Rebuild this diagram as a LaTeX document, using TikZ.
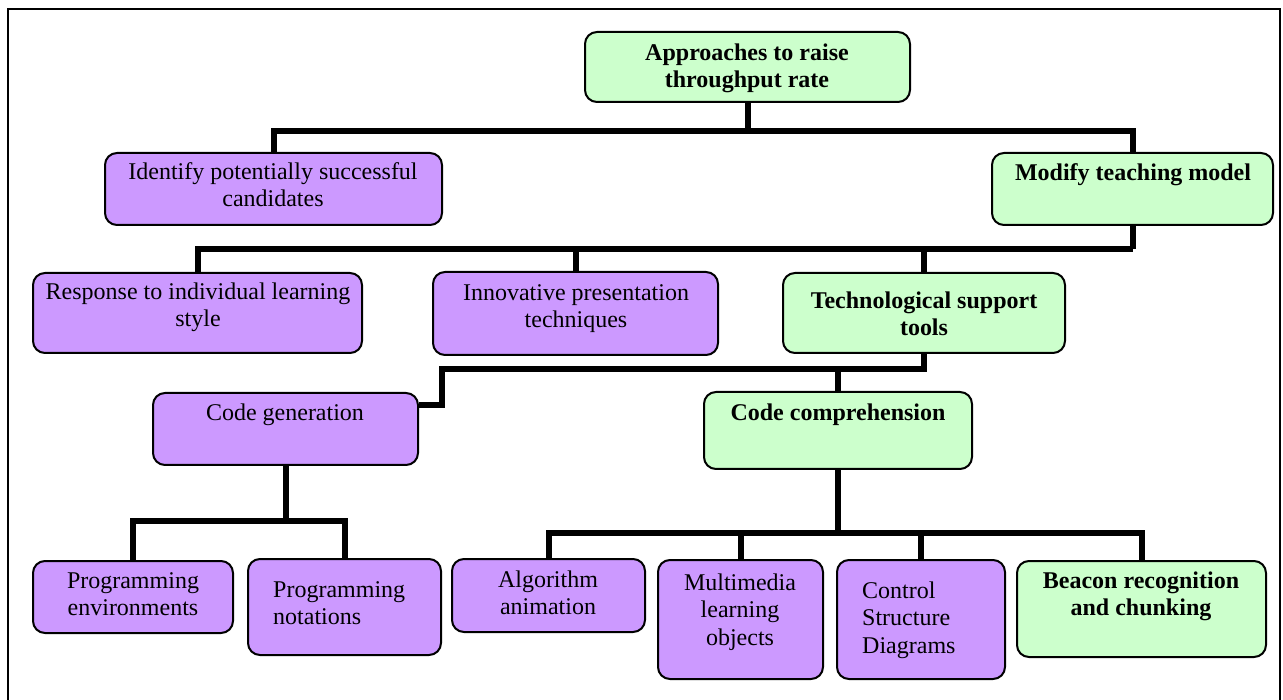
\documentclass[tikz,border=0pt]{standalone}
\usepackage{fontspec}
\setmainfont{Liberation Serif}
\usetikzlibrary{fit}
\definecolor{lavender}{HTML}{CC99FF}
\definecolor{mint}{HTML}{CCFFCC}
\tikzset{
  box/.style={draw=black, line width=2pt, rounded corners=12pt, inner sep=0pt},
  pbox/.style={box, fill=lavender},
  gbox/.style={box, fill=mint},
  txt/.style={inner sep=0pt, anchor=north, align=center, yshift=19.25pt,
              font=\fontsize{24}{27.5}\selectfont},
  btxt/.style={txt, font=\fontsize{24}{27.5}\selectfont\bfseries},
  conn/.style={draw=black, line width=6pt},
}
\begin{document}
\begin{tikzpicture}[x=1pt,y=-1pt]
\useasboundingbox (0,0) rectangle (1283,700);
% outer frame
\draw[line width=2pt] (8,700) -- (8,9) -- (1280,9) -- (1280,700);

% boxes
\node[gbox, fit={(585,32)(910,102)}]   (top)      {};
\node[pbox, fit={(105,153)(442,225)}]  (ident)    {};
\node[gbox, fit={(992,153)(1273,225)}] (modify)   {};
\node[pbox, fit={(33,273)(362,353)}]   (resp)     {};
\node[pbox, fit={(433,272)(718,355)}]  (innov)    {};
\node[gbox, fit={(783,273)(1065,353)}] (tech)     {};
\node[pbox, fit={(153,393)(418,465)}]  (codegen)  {};
\node[gbox, fit={(704,392)(972,469)}]  (codecomp) {};
\node[pbox, fit={(33,561)(233,633)}]   (progenv)  {};
\node[pbox, fit={(248,559)(441,655)}]  (prognot)  {};
\node[pbox, fit={(452,559)(645,632)}]  (algo)     {};
\node[pbox, fit={(658,560)(823,679)}]  (multi)    {};
\node[pbox, fit={(837,560)(1005,679)}] (ctrl)     {};
\node[gbox, fit={(1017,561)(1266,657)}] (beacon)  {};

% labels (placed by first baseline)
\node[btxt] (top-t)      at (747,60)  {\strut Approaches to raise\\throughput rate};
\node[txt]  (ident-t)    at (273,179) {\strut Identify potentially successful\\candidates};
\node[btxt] (modify-t)   at (1133,180) {\strut Modify teaching model};
\node[txt]  (resp-t)     at (198,299) {\strut Response to individual learning\\style};
\node[txt]  (innov-t)    at (576,300) {\strut Innovative presentation\\techniques};
\node[btxt] (tech-t)     at (924,308) {\strut Technological support\\tools};
\node[txt]  (codegen-t)  at (285,420) {\strut Code generation};
\node[btxt] (codecomp-t) at (838,420) {\strut Code comprehension};
\node[txt]  (progenv-t)  at (133,588) {\strut Programming\\environments};
\node[txt, anchor=north west, align=left] (prognot-t) at (273,597) {\strut Programming\\notations};
\node[txt]  (algo-t)     at (548,587) {\strut Algorithm\\animation};
\node[txt]  (multi-t)    at (740,590) {\strut Multimedia\\learning\\objects};
\node[txt, anchor=north west, align=left] (ctrl-t) at (862,598) {\strut Control\\Structure\\Diagrams};
\node[btxt] (beacon-t)   at (1141,588) {\strut Beacon recognition\\and chunking};

% connectors
\draw[conn] (top.south) -- ++(0,28) coordinate (b1);
\draw[conn] (ident.north) |- (b1) -| (modify.north);

\draw[conn] (modify.south) -- ++(0,23) coordinate (b2);
\draw[conn] (b2) -| (resp.north);
\draw[conn] (innov.north) -- (innov.north |- b2);
\draw[conn] (tech.north) -- (tech.north |- b2);

\draw[conn] (tech.south) -- ++(0,15) coordinate (b3) -| (442,405) -- (codegen.east |- 0,405);
\draw[conn] (codecomp.north) -- (codecomp.north |- b3);

\draw[conn] (codegen.south) -- ++(0,55) coordinate (b4);
\draw[conn] (progenv.north) |- (b4) -| (prognot.north);

\draw[conn] (codecomp.south) -- ++(0,63) coordinate (b5);
\draw[conn] (algo.north) |- (b5) -| (beacon.north);
\draw[conn] (multi.north) -- (multi.north |- b5);
\draw[conn] (ctrl.north) -- (ctrl.north |- b5);
\end{tikzpicture}
\end{document}
